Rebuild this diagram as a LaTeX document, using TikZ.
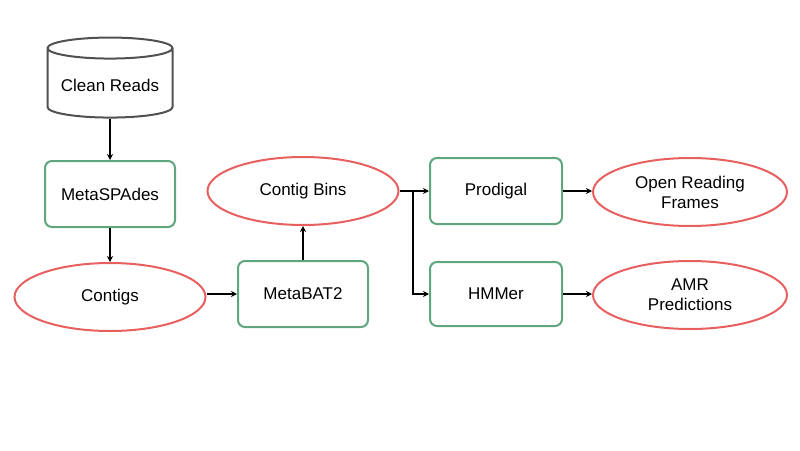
\documentclass[tikz,border=0pt]{standalone}
\usepackage{fontspec}
\setmainfont{Liberation Sans}
\usetikzlibrary{shapes.geometric,arrows.meta}
\definecolor{gr}{RGB}{95,165,125}
\definecolor{rd}{RGB}{232,95,95}
\definecolor{cy}{RGB}{80,80,80}
\begin{document}
\begin{tikzpicture}[x=1pt,y=-1pt,
  boxg/.style={draw=gr,line width=2pt,rounded corners=7pt,minimum width=130pt,minimum height=66pt,font=\fontsize{17}{20}\selectfont,align=center},
  ell/.style={draw=rd,line width=2pt,ellipse,minimum width=191pt,minimum height=68pt,inner sep=0pt,font=\fontsize{17}{20}\selectfont,align=center},
  arr/.style={-{Stealth[length=6pt,width=6pt]},line width=1.2pt,black}]
\useasboundingbox (0,0) rectangle (800,450);
\node[draw=cy,line width=2pt,cylinder,shape border rotate=90,aspect=0.2,minimum width=125pt,minimum height=80pt,font=\fontsize{17}{20}\selectfont] (cr) at (110,85) {Clean Reads};
\node[boxg] (ms) at (110,194) {MetaSPAdes};
\node[ell] (ct) at (110,297) {Contigs};
\node[boxg] (mb) at (303,294) {MetaBAT2};
\node[ell] (cb) at (303,191) {Contig Bins};
\node[boxg,minimum width=132pt] (pr) at (496,191) {Prodigal};
\node[boxg,minimum width=132pt,minimum height=64pt] (hm) at (496,294) {HMMer};
\node[ell,minimum width=194pt] (orf) at (690,192) {Open Reading\\Frames};
\node[ell,minimum width=194pt] (amr) at (690,295) {AMR\\Predictions};
\coordinate (br) at (413,191);
\draw[arr] (cr) -- (ms);
\draw[arr] (ms) -- (ct);
\draw[arr] (ct.east |- mb.west) -- (mb.west);
\draw[arr] (mb) -- (cb);
\draw[arr] (cb.east) -- (pr.west);
\draw[arr] (br) |- (hm.west);
\draw[arr] (pr.east) -- (pr.east -| orf.west);
\draw[arr] (hm.east) -- (hm.east -| amr.west);
\end{tikzpicture}
\end{document}
